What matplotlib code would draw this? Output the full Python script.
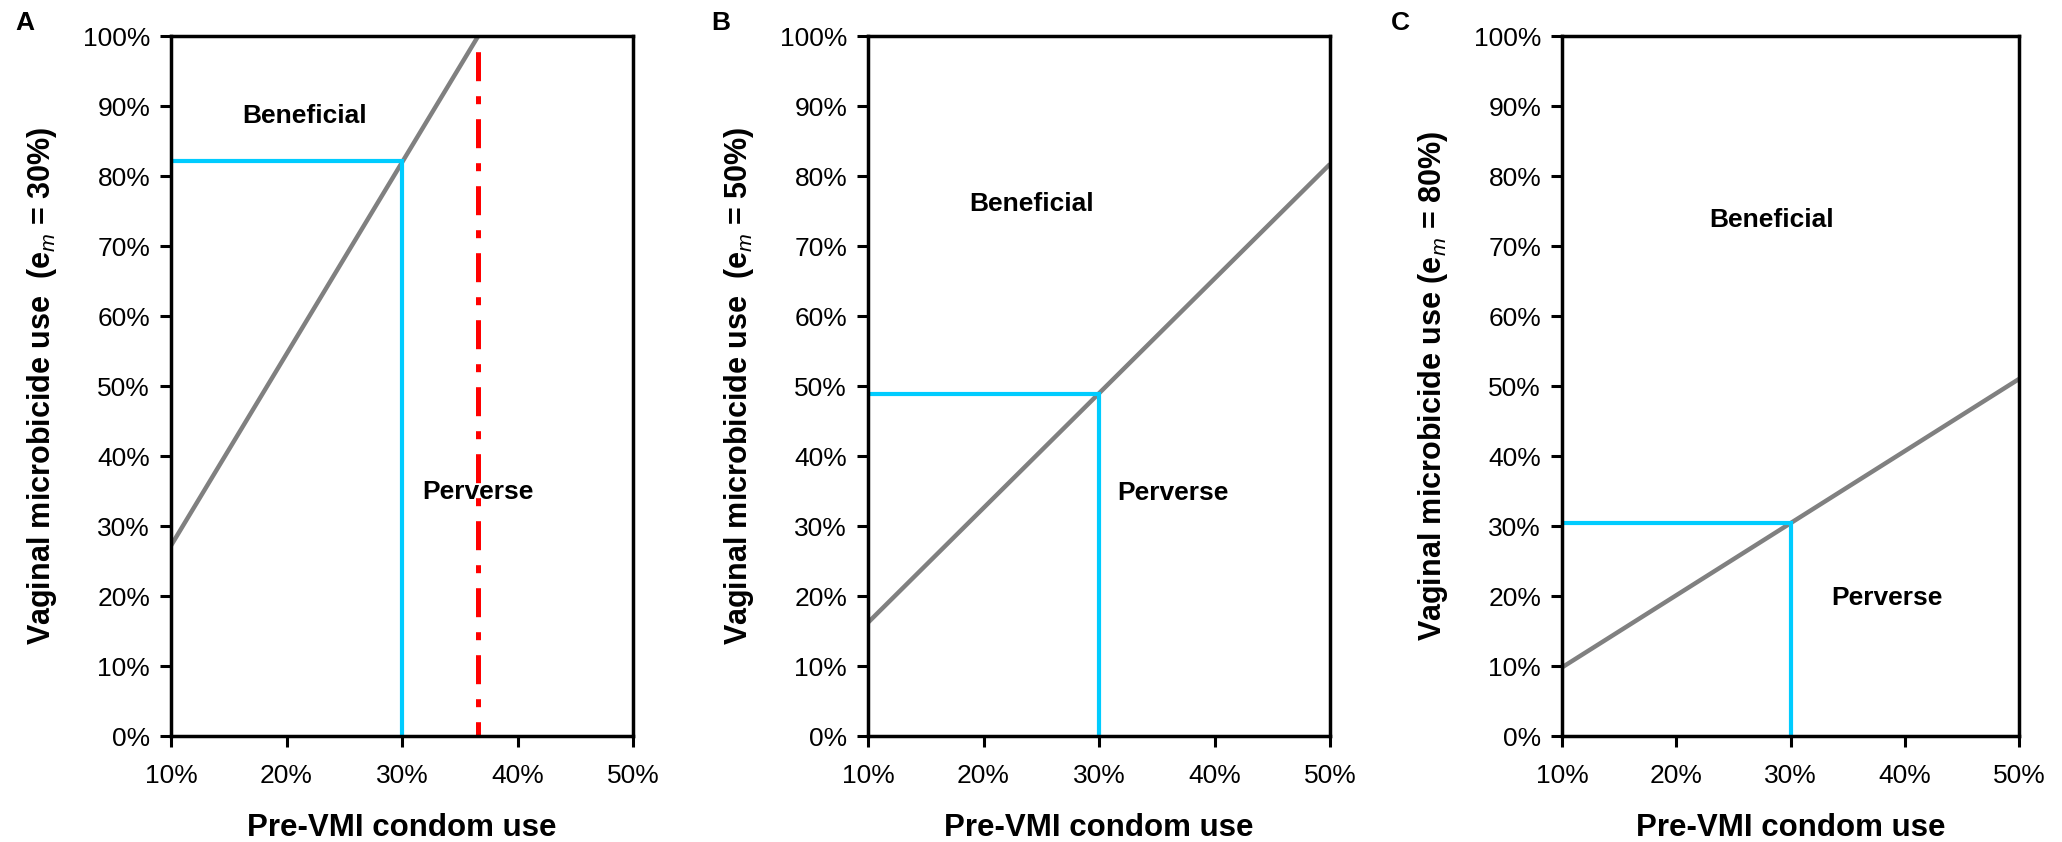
"""
Three panels: microbicide use threshold vs pre-VMI condom use
"""

import matplotlib
matplotlib.use('Agg')
import matplotlib.pyplot as plt
from matplotlib.ticker import FuncFormatter

plt.rcParams['font.family'] = ['Liberation Sans', 'DejaVu Sans']
plt.rcParams['mathtext.fontset'] = 'custom'
plt.rcParams['mathtext.rm'] = 'Liberation Sans'
plt.rcParams['mathtext.it'] = 'Liberation Sans:italic'
plt.rcParams['mathtext.bf'] = 'Liberation Sans:bold'

# ---- data (percent) ----
panel_letters = ['A', 'B', 'C']
efficacy_labels = ['30%', '50%', '80%']
ylabel_gaps = ['  ', '  ', ' ']

# threshold line: endpoints (x, y)
threshold_x = [[10, 36.6], [10, 50], [10, 50]]
threshold_y = [[27.2, 100], [16.2, 81.7], [9.8, 51.0]]

# reference condom use and matching microbicide use
ref_condom = [30, 30, 30]
ref_microbicide = [82.1, 48.9, 30.4]

# upper limit of condom use (only panel A)
max_condom_a = 36.6

# region labels (x, y)
beneficial_pos = [(21.6, 88.6), (24.2, 76.0), (28.3, 73.7)]
perverse_pos = [(36.6, 34.9), (36.4, 34.7), (38.4, 19.7)]

x_ticks = [10, 20, 30, 40, 50]
y_ticks = [0, 10, 20, 30, 40, 50, 60, 70, 80, 90, 100]

GRAY = '#808080'
CYAN = '#00CCFF'
RED = '#FF0000'

fig = plt.figure(figsize=(20.62, 8.42), dpi=100)

W, H = 2062.0, 842.0
axes_left = [171, 868, 1562]
axes_width = [462, 462, 457]
letter_x = [15, 711, 1391]
bottom = 1 - 736 / H
height = (736 - 36) / H

pct = FuncFormatter(lambda v, p: f'{v:.0f}%')

for i in range(3):
    ax = fig.add_axes([axes_left[i] / W, bottom, axes_width[i] / W, height])

    # threshold line
    ax.plot(threshold_x[i], threshold_y[i], color=GRAY, lw=3.2, solid_capstyle='butt')

    # reference lines at 30% condom use
    ax.plot([10, ref_condom[i], ref_condom[i]],
            [ref_microbicide[i], ref_microbicide[i], 0],
            color=CYAN, lw=3.0, solid_joinstyle='miter')

    if i == 0:
        ax.plot([max_condom_a, max_condom_a], [100, 0], color=RED, lw=3.6,
                linestyle=(10.26, (5.8, 3, 1.6, 3)))

    ax.text(beneficial_pos[i][0], beneficial_pos[i][1], 'Beneficial',
            fontsize=19, fontweight='bold', ha='center', va='center')
    ax.text(perverse_pos[i][0], perverse_pos[i][1], 'Perverse',
            fontsize=19, fontweight='bold', ha='center', va='center')

    ax.set_xlim(10, 50)
    ax.set_ylim(0, 100)
    ax.set_xticks(x_ticks)
    ax.set_yticks(y_ticks)
    ax.xaxis.set_major_formatter(pct)
    ax.yaxis.set_major_formatter(pct)
    ax.tick_params(axis='both', direction='out', length=8, width=2.2,
                   labelsize=19, color='black')
    ax.tick_params(axis='x', pad=12)
    ax.tick_params(axis='y', pad=7)
    for sp in ax.spines.values():
        sp.set_linewidth(2.5)

    ax.set_xlabel('Pre-VMI condom use', fontsize=22.5, fontweight='bold',
                  va='baseline')
    ax.xaxis.set_label_coords(0.5, -100 / 700)
    ax.set_ylabel('Vaginal microbicide use' + ylabel_gaps[i] + '(e$_{m}$ = '
                  + efficacy_labels[i] + ')', fontsize=22, fontweight='bold')
    ax.yaxis.set_label_coords(-112 / axes_width[i], 0.5)

    fig.text(letter_x[i] / W, 1 - 30 / H, panel_letters[i],
             fontsize=19, fontweight='bold', va='baseline')

fig.savefig('out.png', dpi=100)
